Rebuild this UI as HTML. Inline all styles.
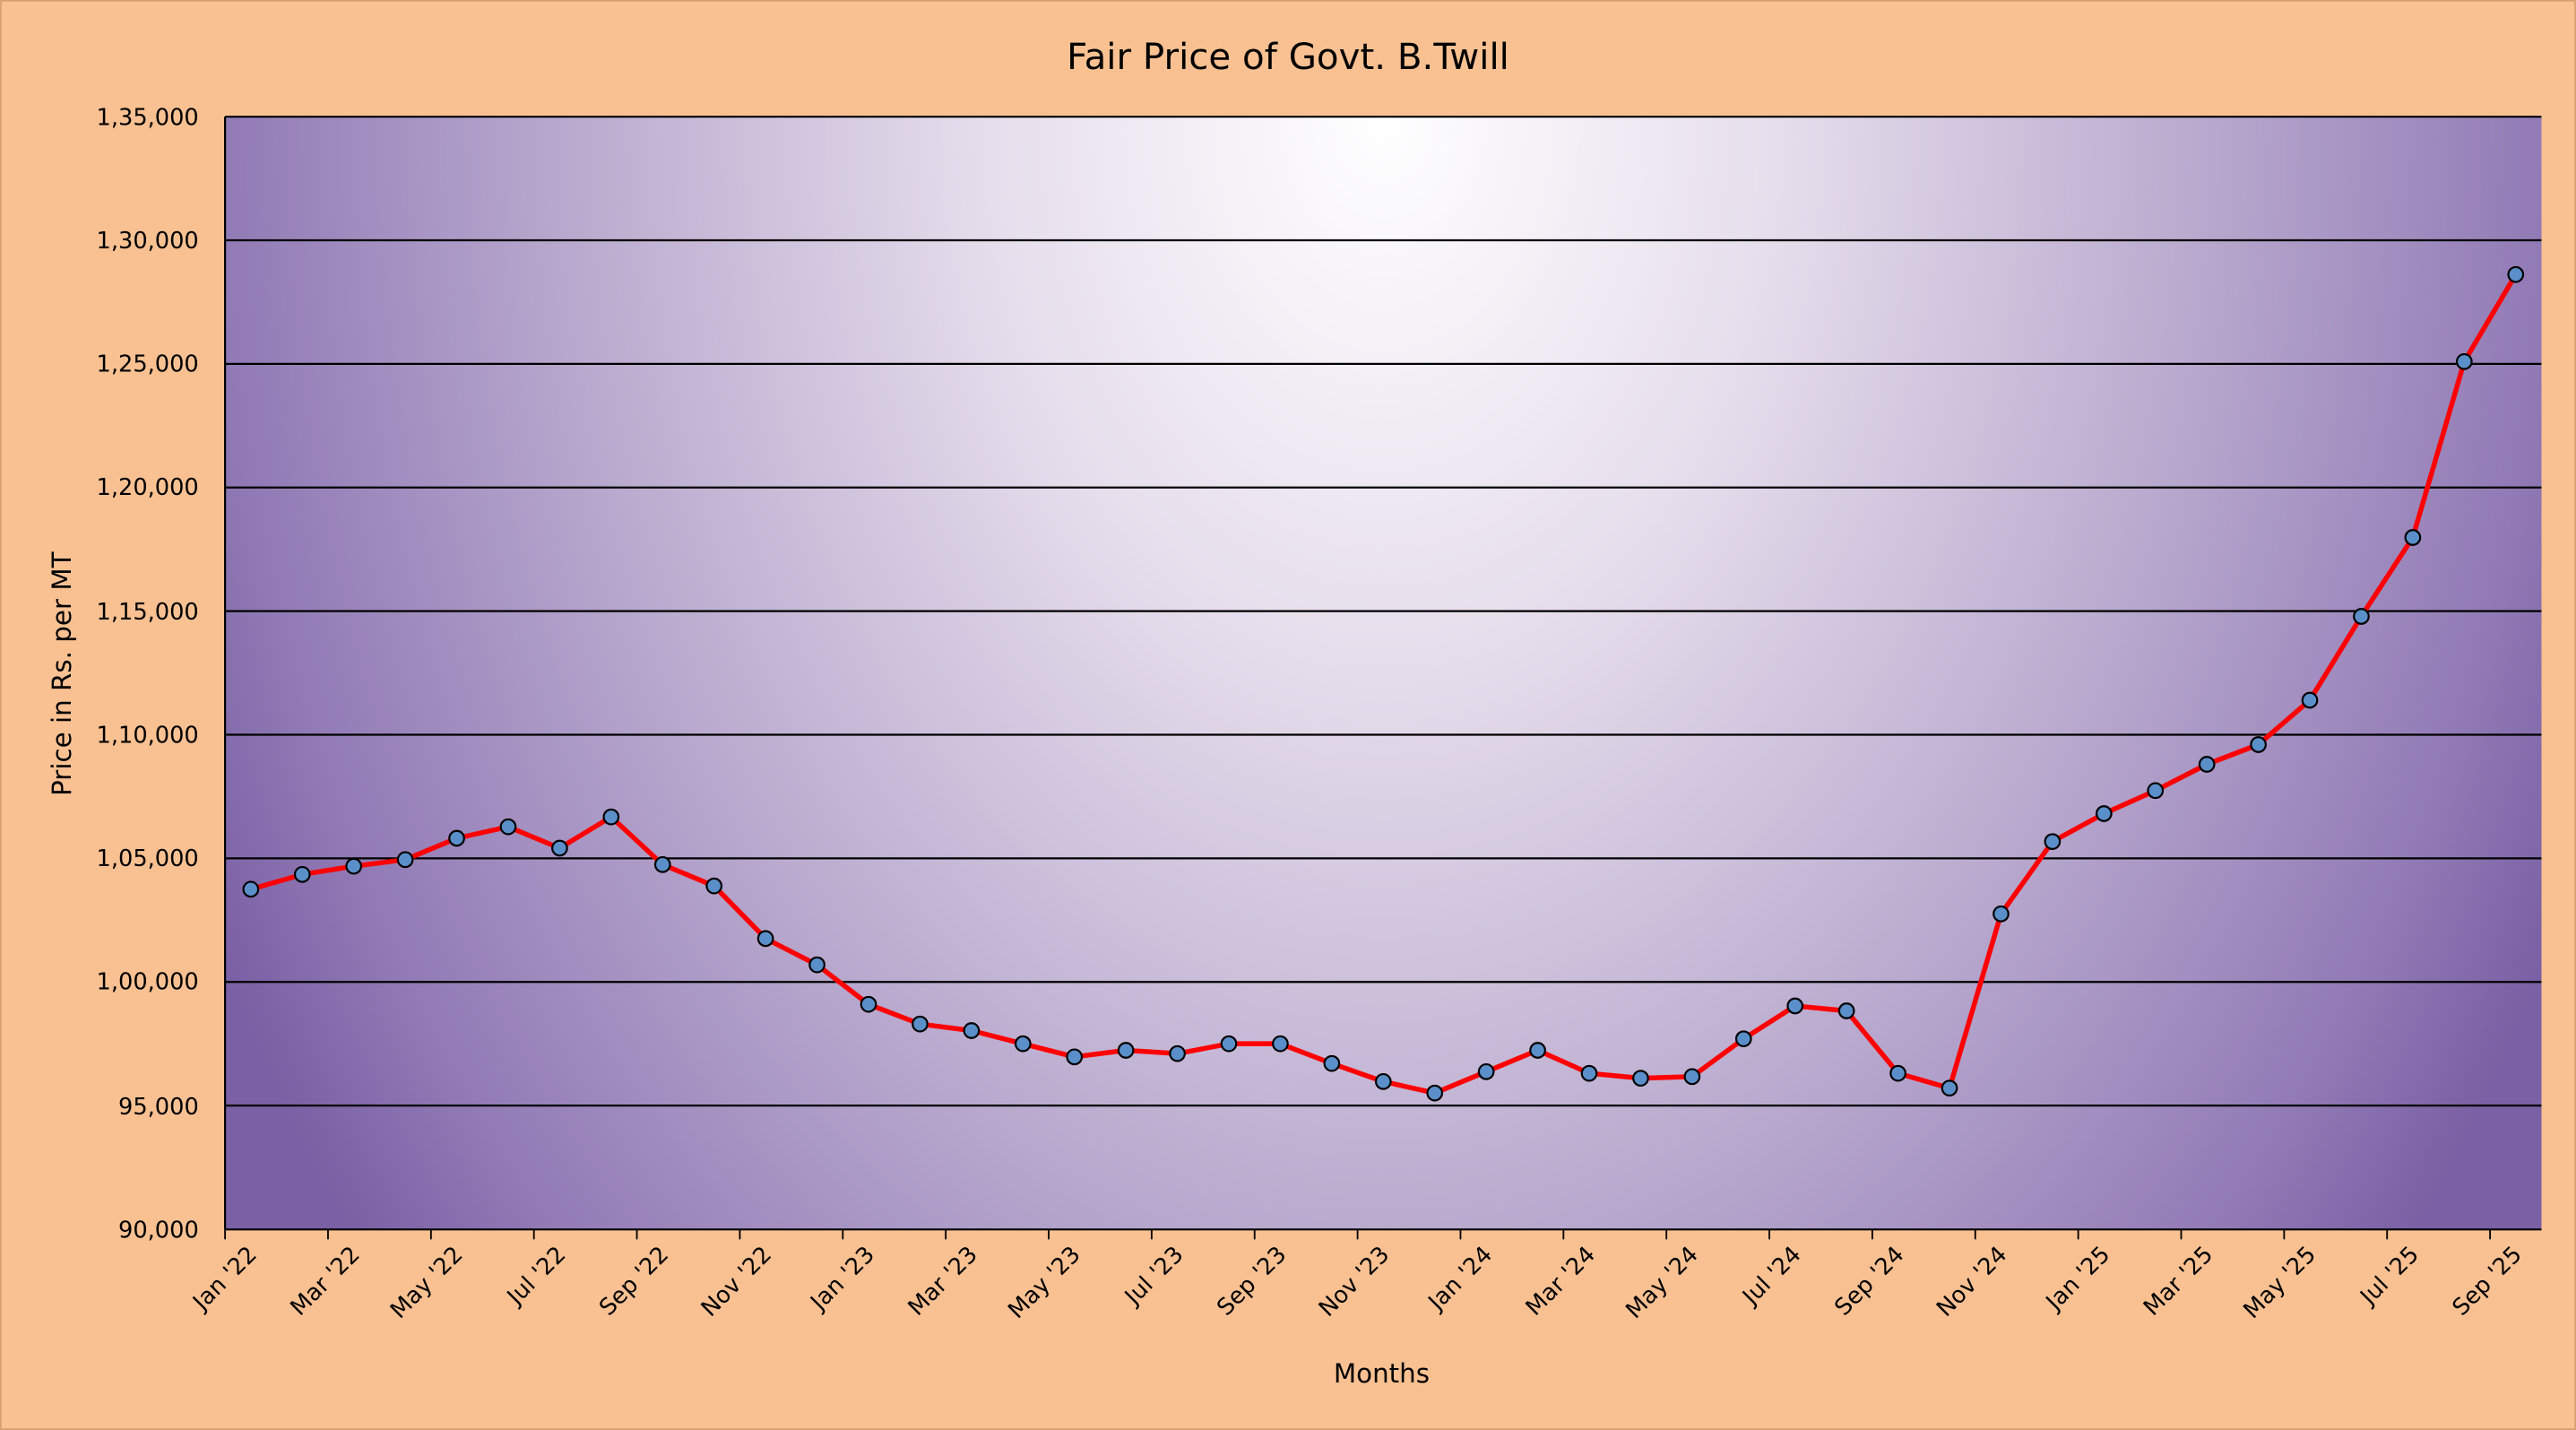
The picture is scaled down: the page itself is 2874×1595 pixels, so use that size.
<!DOCTYPE html>
<html><head><meta charset="utf-8"><style>html,body{margin:0;padding:0;background:#F9C192}svg{display:block}</style></head>
<body>
<svg xmlns="http://www.w3.org/2000/svg" width="2874" height="1595" viewBox="0 0 1568 870" preserveAspectRatio="none" font-family="DejaVu Sans, Liberation Sans, sans-serif">
<defs>
<radialGradient id="g" gradientUnits="userSpaceOnUse" cx="842" cy="71" r="800" fx="842" fy="71" gradientTransform="translate(0 71) scale(1 1.375) translate(0 -71)">
<stop offset="0" stop-color="#ffffff"/>
<stop offset="0.3" stop-color="#e6deec"/>
<stop offset="0.6" stop-color="#bcadd0"/>
<stop offset="0.88" stop-color="#927bb6"/>
<stop offset="1" stop-color="#7a60a4"/>
</radialGradient>
</defs>
<rect width="1568" height="870" fill="#F9C192"/>
<rect x="0.5" y="0.5" width="1567" height="869" fill="none" stroke="#d9a070"/>
<text x="784" y="42" font-size="22" text-anchor="middle" fill="#000">Fair Price of Govt. B.Twill</text>
<rect x="137" y="71" width="1410" height="677" fill="url(#g)"/>
<g stroke="#000" stroke-width="1.2">
<line x1="137" x2="1547" y1="71" y2="71"/><line x1="137" x2="1547" y1="146.2" y2="146.2"/><line x1="137" x2="1547" y1="221.4" y2="221.4"/><line x1="137" x2="1547" y1="296.6" y2="296.6"/><line x1="137" x2="1547" y1="371.8" y2="371.8"/><line x1="137" x2="1547" y1="447" y2="447"/><line x1="137" x2="1547" y1="522.2" y2="522.2"/><line x1="137" x2="1547" y1="597.4" y2="597.4"/><line x1="137" x2="1547" y1="672.6" y2="672.6"/>
<line x1="137" x2="1547" y1="748" y2="748"/><line x1="137" x2="137" y1="71" y2="748"/>
</g>
<g font-size="14" text-anchor="end" fill="#000">
<text x="121" y="76">1,35,000</text><text x="121" y="151">1,30,000</text><text x="121" y="226">1,25,000</text><text x="121" y="301">1,20,000</text><text x="121" y="377">1,15,000</text><text x="121" y="452">1,10,000</text><text x="121" y="527">1,05,000</text><text x="121" y="602">1,00,000</text><text x="121" y="678">95,000</text><text x="121" y="753">90,000</text>
</g>
<g id="xt" stroke="#000" stroke-width="1">
</g>
<g font-size="14" text-anchor="end" fill="#000" id="xl"></g>
<text x="841" y="841" font-size="16" text-anchor="middle">Months</text>
<text transform="translate(43 410) rotate(-90)" font-size="16" text-anchor="middle">Price in Rs. per MT</text>
<polyline id="ln" fill="none" stroke="#ff0000" stroke-width="3" stroke-linejoin="round"/>
<g id="pts" fill="#5b8fc9" stroke="#000" stroke-width="1.2"></g>
<script>
var ys=[541,532,527,523,510,503,516,497,526,539,571,587,611,623,627,635,643,639,641,635,635,647,658,665,652,639,653,656,655,632,612,615,653,662,556,512,495,481,465,453,426,375,327,220,167];
var ns="http://www.w3.org/2000/svg",pts="",g=document.getElementById("pts");
ys.forEach(function(y,i){var x=137+31.333*(i+0.5);pts+=x+","+y+" ";var c=document.createElementNS(ns,"circle");c.setAttribute("cx",x);c.setAttribute("cy",y);c.setAttribute("r",4.5);g.appendChild(c);});
document.getElementById("ln").setAttribute("points",pts);
var m=["Jan","Mar","May","Jul","Sep","Nov"],xt=document.getElementById("xt"),xl=document.getElementById("xl");
for(var k=0;k<23;k++){var x=137+62.667*k;var l=document.createElementNS(ns,"line");l.setAttribute("x1",x);l.setAttribute("x2",x);l.setAttribute("y1",748);l.setAttribute("y2",754);xt.appendChild(l);
var t=document.createElementNS(ns,"text");var yr=22+Math.floor(k/6);t.textContent=m[k%6]+" '"+yr;t.setAttribute("transform","translate("+(x+20)+" 764) rotate(-45)");xl.appendChild(t);}
</script>
</svg>
</body></html>
